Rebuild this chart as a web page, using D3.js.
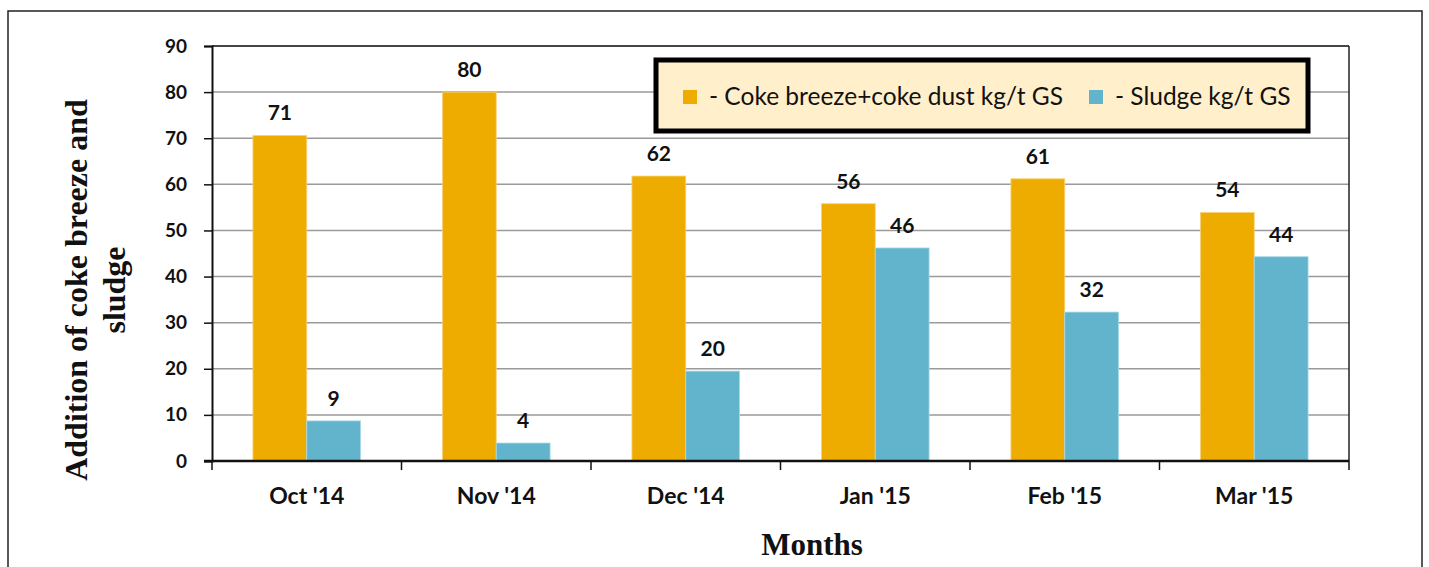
<!DOCTYPE html>
<html><head><meta charset="utf-8">
<script src="https://cdn.jsdelivr.net/npm/d3@7"></script>
<style>body{margin:0;background:#fff}svg{display:block}</style>
</head><body>
<script>
const categories = ["Oct '14","Nov '14","Dec '14","Jan '15","Feb '15","Mar '15"];
const cokeValues = [70.6, 80.0, 61.8, 55.8, 61.2, 53.9];
const sludgeValues = [8.7, 3.9, 19.5, 46.2, 32.3, 44.3];
const seriesNames = ["- Coke breeze+coke dust kg/t GS", "- Sludge kg/t GS"];
const yTicks = [0,10,20,30,40,50,60,70,80,90];
const colors = ["#EFAC00", "#62B4CC"];

const W = 1429, H = 567;
const m = {left:212, top:46, right:1349, bottom:461};
const svg = d3.select("body").append("svg").attr("width",W).attr("height",H);
const font = "Lato, 'Open Sans', sans-serif";

// outer border
svg.append("rect").attr("x",8).attr("y",11).attr("width",1414).attr("height",600)
  .attr("fill","none").attr("stroke","#222").attr("stroke-width",1.5);

const x = d3.scaleBand().domain(categories).range([m.left,m.right]);
const y = d3.scaleLinear().domain([0,90]).range([m.bottom,m.top]);
const inner = d3.scaleBand().domain([0,1]).range([0,x.bandwidth()]).paddingInner(0).paddingOuter(0.76);

// gridlines
svg.append("g").selectAll("line").data(yTicks.filter(d=>d>0)).join("line")
  .attr("x1",m.left).attr("x2",m.right).attr("y1",d=>y(d)).attr("y2",d=>y(d))
  .attr("stroke","#9a9a9a").attr("stroke-width",1.5);

// bars
const series = [cokeValues, sludgeValues];
series.forEach((vals,si)=>{
  svg.append("g").selectAll("rect").data(vals).join("rect")
    .attr("x",(d,i)=>x(categories[i])+inner(si))
    .attr("y",d=>y(d)).attr("width",inner.bandwidth()).attr("height",d=>y(0)-y(d))
    .attr("fill",colors[si]).attr("stroke", si==0?"#F7D27A":"#A9DAE8").attr("stroke-width",0.8);
  svg.append("g").selectAll("text").data(vals).join("text")
    .attr("x",(d,i)=>x(categories[i])+inner(si)+inner.bandwidth()/2)
    .attr("y",d=>y(d)-15).attr("text-anchor","middle")
    .attr("font-family",font).attr("font-weight","bold").attr("font-size",21).attr("fill","#111")
    .text(d=>d3.format(".0f")(d));
});

// plot frame top/right
svg.append("line").attr("x1",m.left).attr("x2",m.right).attr("y1",m.top).attr("y2",m.top).attr("stroke","#222").attr("stroke-width",1.5);
svg.append("line").attr("x1",m.right).attr("x2",m.right).attr("y1",m.top).attr("y2",m.bottom).attr("stroke","#222").attr("stroke-width",1.5);

// y axis
const yAxis = svg.append("g").attr("transform",`translate(${m.left},0)`)
  .call(d3.axisLeft(y).tickValues(yTicks).tickSize(8).tickPadding(17).tickFormat(d3.format("d")));
yAxis.select(".domain").attr("stroke","#111").attr("stroke-width",2);
yAxis.selectAll(".tick line").attr("stroke","#111").attr("stroke-width",1.5);
yAxis.selectAll("text").attr("font-family",font).attr("font-weight","bold").attr("font-size",19).attr("fill","#111");

// x axis
const bounds = categories.map(c=>x(c)).concat([m.right]);
svg.append("line").attr("x1",m.left-8).attr("x2",m.right).attr("y1",m.bottom).attr("y2",m.bottom).attr("stroke","#111").attr("stroke-width",2.5);
svg.append("g").selectAll("line").data(bounds).join("line")
  .attr("x1",d=>d).attr("x2",d=>d).attr("y1",m.bottom).attr("y2",m.bottom+9).attr("stroke","#111").attr("stroke-width",1.5);
svg.append("g").selectAll("text").data(categories).join("text")
  .attr("x",d=>x(d)+x.bandwidth()/2).attr("y",504).attr("text-anchor","middle")
  .attr("font-family",font).attr("font-weight","bold").attr("font-size",23).attr("fill","#111")
  .text(d=>d);

// axis titles
svg.append("text").attr("x",812).attr("y",555).attr("text-anchor","middle")
  .attr("font-family","'Liberation Serif','Times New Roman',serif").attr("font-weight","bold").attr("font-size",31)
  .attr("fill","#111").text("Months");
const yt = svg.append("text").attr("transform","translate(0,290) rotate(-90)").attr("text-anchor","middle")
  .attr("font-family","'Liberation Serif','Times New Roman',serif").attr("font-weight","bold").attr("font-size",32).attr("fill","#111");
yt.append("tspan").attr("x",0).attr("y",87).text("Addition of coke breeze and");
yt.append("tspan").attr("x",0).attr("y",125).text("sludge");

// legend
const lg = svg.append("g");
lg.append("rect").attr("x",656).attr("y",60).attr("width",652).attr("height",71)
  .attr("fill","#FFEFCB").attr("stroke","#000").attr("stroke-width",5);
const legX = [683, 1089];
seriesNames.forEach((n,i)=>{
  lg.append("rect").attr("x",legX[i]).attr("y",90).attr("width",14).attr("height",14).attr("fill",colors[i]);
  lg.append("text").attr("x",legX[i]+26).attr("y",105).attr("font-family",font).attr("font-size",24.5).attr("fill","#111").text(n);
});
</script>
</body></html>
